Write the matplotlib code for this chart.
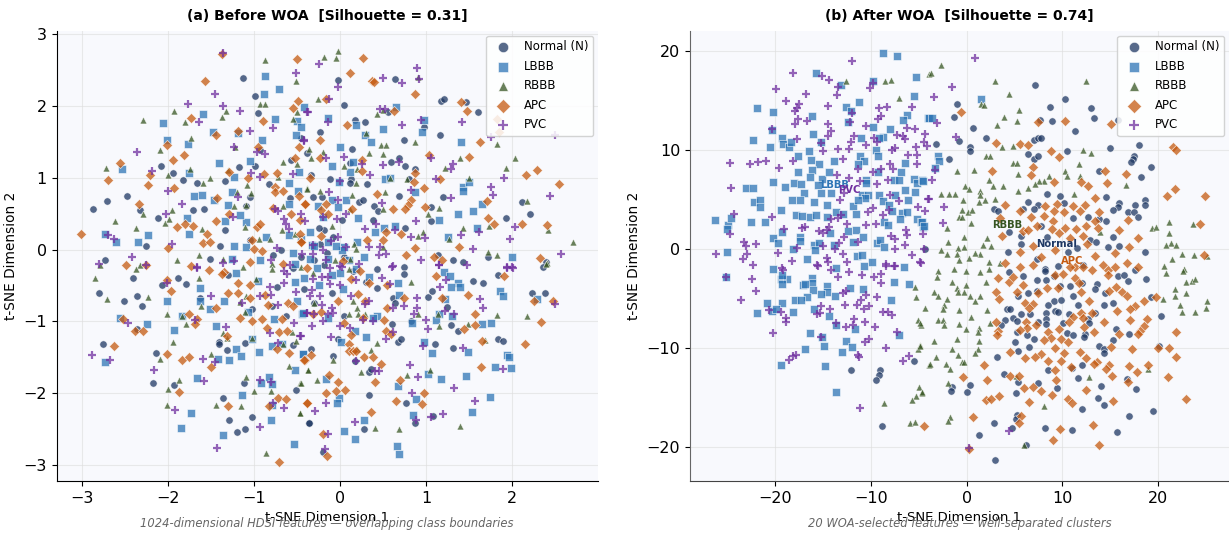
import matplotlib
matplotlib.use("Agg")
import matplotlib.pyplot as plt

# (a) before WOA
a_normal = [(-2.87,.56),(-2.71,.67),(-2.48,.74),(-2.33,.55),(-2.12,.44),(-2.08,1.16),(-1.94,1.06),(-1.83,.97),(-1.66,.92),(-1.71,.55),(-1.58,.57),(-1.34,.96),(-1.18,1.15),(-1.13,2.38),(-.99,2.13),(-.96,1.9),(-.99,1.16),(-1.34,.27),(-1.4,.05),(-2.26,.05),(-2.73,-.14),(-1.51,-.13),(-1.1,.6),(-1.05,.73),(-.57,1.25),(-.45,1.55),(-.58,.72),(-.83,.91),(-.93,1.39),(-.69,-.01),(-.78,-.08),(-.39,1.34),(-1.05,.13),
    (-.03,2.36),(.64,2.37),(.04,2.01),(.17,1.8),(.29,1.77),(1.17,2.07),(1.21,2.09),(1.47,2.05),(1.6,1.92),(.56,1.91),(.97,1.7),(1.16,1.6),(.74,1.53),(-.24,1.63),(.14,1.4),(.59,1.22),(.69,1.27),(.76,1.16),(.87,1.12),(.11,1.21),(-.34,1.03),(-.12,.98),(.13,.98),(.12,.92),(.31,.91),(.8,.98),(.69,.74),(1.2,.73),(.22,.66),(.27,.69),(.39,.61),(.44,.53),(1.06,.59),(1.06,.4),(1.93,.44),(2.12,.66),(2.21,.5),(.38,.41),(.02,.41),(-.32,.73),(-.21,.73),(-.19,.27),(.76,.3),(1.14,-.07),(1.31,-.14),(1.43,-.17),(1.72,-.11),(2.4,-.17),(-.24,.08),
    (-2.41,-.4),(-2.07,-.49),(-1.89,-.4),(-1.79,-.48),(-2.81,-.61),(-2.51,-.71),(-2.36,-.65),(-2.3,-.78),(-2.36,-1.1),(-2.76,-1.32),(-2.14,-1.44),(-2.18,-1.85),(-1.93,-1.88),(-1.41,-1.28),(-1.41,-1.31),(-1.32,-1.4),(-1.11,-1.3),(-1.12,-1.85),(-1.36,-2.07),(-1.29,-2.37),(-1.2,-2.54),(-1.11,-2.5),(-1.02,-2.33),(-.51,-1.95),(-.36,-2.41),(-.55,-1.33),(-.63,-.92),(-.74,-.52),(-1.3,-.36),(-1.63,-.67),(-.79,-.79),(-1.03,-.83),
    (-.19,-.22),(.43,-.27),(.74,-.24),(.74,-.34),(1.55,-.44),(1.66,-.47),(1.84,-.36),(2.36,-.24),(2.23,-.6),(2.38,-.61),(1.02,-.66),(1.07,-.57),(1.24,-.8),(.43,-.54),(.61,-.67),(.64,-.75),(.6,-1.03),(.82,-.99),(1.29,-1.05),(1.37,-1.14),(.67,-1.29),(.71,-1.25),(1.1,-1.32),(1.31,-1.37),(1.84,-1.24),(1.9,-1.27),(-.34,-1.39),(-.08,-1.48),(-.02,-1.24),(.05,-.92),(.17,-1.55),(.33,-1.71),(.36,-1.66),(.33,-2.03),(.77,-2.14),(1.08,-2.31),(.87,-2.42),(.28,-2.5),(-.36,-2.41),(-.2,-2.82),
    (-.45,-.1),(-.3,-.15),(-.15,-.05),(-.25,.3),(-.08,.18),(.15,-.3),(.05,-.1),(-.42,-.55),(-.55,-.25),(.3,-.45),(-.1,-.6),(-.3,-.75)]
a_lbbb = [(-2.06,1.76),(-2.02,1.52),(-1.6,1.88),(-1.48,1.63),(-1.19,1.62),(-1.77,1.47),(-1.41,1.21),(-1.05,1.23),(-1.23,1.01),(-1.76,1.06),(-2.54,1.12),(-1.7,.74),(-1.61,.76),(-1.47,.69),(-1.26,.8),(-1.31,.62),(-1.78,.44),(-1.76,.22),(-1.34,.4),(-1.1,.38),(-1.16,.48),(-1.23,.05),(-1.09,.04),(-2.73,.22),(-2.61,.11),(-2.35,.11),(-2.23,.2),(-.87,2.42),(-.89,2.16),(-.71,2.23),(-.76,1.82),(-.91,1.52),(-.42,1.98),(-.5,1.79),(-.46,1.71),(-.51,1.59),(-.48,1.08),(-.6,.92),(-.49,.82),(-.6,.63),(-.86,.17),(-1.26,-.13),(-.93,-.15),(-.53,-.2),
    (-.14,1.83),(.19,1.73),(.29,1.6),(.36,1.49),(.5,1.67),(.65,1.98),(.97,1.8),(.95,1.63),(1.41,1.49),(0,1.42),(-.1,1.16),(.11,1.08),(.15,1.22),(-.01,.94),(.52,.98),(.58,.99),(.87,.8),(1.43,.87),(1.43,.82),(1.5,.94),(1.65,.63),(1.54,.53),(1.37,.49),(1.15,.41),(1.59,.3),(1.26,.17),(2,-.1),(.07,.69),(-.1,.69),(-.26,.6),(-.02,.59),(.21,.44),(-.35,.24),(.41,.24),(.51,.3),(.64,.33),(-.14,.1),(.04,.03),(-.33,.06),(-.35,-.13),(-.14,-.13),(.02,-.01),
    (-1.21,-.33),(-1.63,-.54),(-1.63,-.72),(-1.35,-.72),(-2.02,-.72),(-1.51,-.83),(-1.84,-.93),(-2.25,-1.04),(-2.56,-.95),(-1.93,-1.12),(-1.44,-1.06),(-1.07,-.87),(-.96,-.44),(-.5,-.71),(-.77,-.97),(-.53,-.45),(-.42,-.4),(-1.03,-1.24),(-1.21,-1.38),(-1.15,-1.48),(-.94,-1.43),(-1.29,-1.53),(-1.42,-1.52),(-.79,-1.34),(-.68,-1.31),(-.53,-1.67),(-.43,-1.45),(-1.66,-1.79),(-2.73,-1.57),(-1.14,-2.03),(-.83,-1.78),(-.92,-1.85),(-.79,-1.87),(-.81,-2.37),(-.79,-2.16),(-1.74,-2.27),(-1.85,-2.48),(-1.36,-2.58),(-.54,-2.7),(-.44,-.9),
    (-.27,-.25),(0,-.32),(.18,-.27),(.34,-.38),(.67,-.46),(.03,-.55),(.68,-.63),(1.21,-.31),(1.28,-.37),(1.37,-.46),(1.29,-.52),(1.4,-.52),(1.86,-.58),(1.9,-.64),(2.29,-.69),(1.22,-.69),(1.3,-.93),(1.15,-.89),(1.12,-.98),(.84,-1.02),(1.65,-1.04),(1.76,-1.02),(.43,-.93),(.38,-.95),(.17,-1.13),(.3,-1.21),(.01,-1.29),(.98,-1.29),(1.07,-1.44),(1.49,-1.43),(1.94,-1.47),(1.97,-1.49),(1.99,-1.65),(1.8,-1.64),(1.46,-1.76),(1.17,-1.8),(1.02,-1.73),(.67,-1.9),(-.17,-1.8),(-.01,-2.06),(-.04,-2.13),(1.74,-2.05),(.88,-2.08),(1.53,-2.26),(.85,-2.3),(.28,-2.37),(.05,-2.53),(.17,-2.64),(.66,-2.73),(.69,-2.85),(-.43,-1.45),(-.43,-.88),(-.14,-.95),
    (-.3,.05),(-.05,.05),(.1,-.15),(-.25,-.5),(-.1,-.35),(.2,.1),(-.45,.15),(-.55,-.05),(-.6,.2),(-.2,.45),(.28,-.1)]
a_rbbb = [(-2.72,1.13),(-2.29,1.8),(-1.93,1.93),(-1.8,1.78),(-1.73,1.55),(-2.1,1.38),(-2,1.03),(-1.75,1.12),(-1.51,1),(-1.6,.92),(-2.62,.4),(-2.37,.3),(-2.29,.5),(-1.96,.55),(-2.04,.37),(-1.99,.42),(-1.61,.29),(-.88,2.64),(-.51,2.35),(-.93,2.03),(-.88,2.02),(-1.38,1.84),(-1.33,1.93),(-1.22,1.42),(-.66,1.22),(-.5,1.92),(-.55,1.82),(-.5,1.19),(-1.31,1.11),(-.72,1.01),(-1.08,.9),(-1.04,.78),(-1.2,.8),(-.39,.85),(-1.24,.6),(-1.1,.62),(-1.11,.32),(-.82,.15),(-.94,.15),(-.66,.6),(-.68,.27),(-.53,.22),(-2.79,-.22),(-2.33,-.22),(-1.9,-.15),(-1.64,-.08),(-1.36,-.13),(-1.13,-.24),(-.79,-.2),(-.45,-.24),
    (-.03,2.76),(-.19,2.68),(-.05,2.67),(.9,2.4),(-.26,2.1),(.43,1.89),(.5,1.94),(.3,1.62),(.87,1.49),(.48,1.46),(.53,1.45),(1.83,1.47),(2.03,1.27),(1.93,1.13),(1.39,1.28),(1.22,1.14),(1.5,1),(.58,1),(.78,.98),(-.36,1.4),(-.2,1.35),(-.34,1.28),(.33,1.34),(.5,1.33),(.04,1.16),(.2,1.12),(.18,.92),(-.38,.84),(-.23,.81),(.14,.76),(.52,.8),(2.17,.67),(1.15,.58),(.5,.56),(1.02,.5),(.11,.57),(1.73,.33),(1.43,.3),(2.42,.27),(2.71,.1),(1.27,.15),(.96,.25),(.91,.19),(1.72,-.03),(1.83,-.07),(2.41,-.19),(-.1,.33),(.16,.08),(.19,.01),(-.06,-.15),(.11,-.13),(.5,.04),
    (-2.85,-.39),(-2.71,-.69),(-2.23,-.66),(-2.38,-.27),(-2.02,-.89),(-1.84,-.93),(-1.79,-1.04),(-1.64,-.39),(-1.62,-.79),(-1.94,-1.28),(-2.1,-1.52),(-1.5,-1.46),(-1.36,-1.16),(-1.32,-1.23),(-1.16,-.73),(-1.11,-.87),(-1.09,-.65),(-.98,-.41),(-1.02,-1.23),(-.66,-1.31),(-.56,-1.15),(-.51,-1.27),(-.6,-1.62),(-.37,-1.68),(-.47,-1.86),(-1.1,-1.77),(-1.88,-1.82),(-2,-1.94),(-2.01,-2.16),(-1.45,-2.16),(-1.15,-2.17),(-1,-1.97),(-.81,-1.97),(-.47,-2.27),(-.86,-2.83),(-.79,-.27),
    (-.31,-.33),(.1,-.27),(.83,-.45),(.15,-.72),(-.3,-.74),(.1,-.9),(.2,-.82),(.21,-.89),(.29,-.89),(.9,-.9),(1.14,-.89),(1.15,-1.07),(1.49,-1.04),(1.82,-.91),(2.17,-.92),(.43,-1.3),(1.69,-1.26),(.2,-1.38),(.36,-1.4),(-.08,-1.54),(-.37,-1.68),(-.27,-1.82),(.24,-1.7),(.78,-1.75),(1.04,-1.68),(.4,-2.48),(.68,-2.49),(1.39,-2.45),(-.46,-1.86),(-.47,-2.27),(2.4,-.2)]
a_apc = [(-3.01,.22),(-2.56,1.2),(-2.7,.97),(-2.34,.63),(-2.24,.9),(-2.21,1.04),(-2.02,1.45),(-1.94,1.25),(-1.82,1.31),(-1.93,.85),(-1.74,1.83),(-1.57,2.34),(-1.45,1.59),(-1.37,2.72),(-1.19,1.65),(-1.29,1.08),(-1.07,1),(-1.43,.72),(-1.29,.5),(-1.44,.39),(-1.9,.31),(-1.8,.36),(-1.71,.33),(-1.55,.22),(-1.6,.09),(-1.51,.1),(-2,.02),(-2.49,-.22),(-2.26,-.22),(-1.74,-.23),(-.97,.32),(-.93,.35),(-1.03,.13),(-1,.01),(-.91,-.02),(-1.05,-.17),(-.96,1.43),(-.9,1.79),(-.89,1.05),(-.74,1.06),(-.76,.87),(-.76,.8),(-.66,.81),(-.78,.58),(-.57,.5),(-.5,2.65),(-.49,2.06),(-.55,1.97),(-.48,1.42),(-.52,1.28),(-.48,.74),(-.41,.64),(-.47,.41),(-.47,.22),(-.45,.1),(-.66,-.2),
    (.27,2.66),(.12,2.46),(.37,2.35),(.39,2.33),(.87,2.16),(-.17,2.09),(1.41,2.05),(1.48,1.93),(.63,1.93),(.08,1.73),(-.23,1.52),(-.24,1.27),(.25,1.25),(.26,1.09),(-.35,1),(1.03,1.32),(1.5,1.29),(1.63,1.5),(1.82,1.82),(1.85,1.64),(2.16,1.04),(2.29,1.1),(2.55,.91),(.87,1.07),(.86,.94),(.97,.85),(1.16,.98),(.43,.77),(.82,.69),(.79,.62),(.76,.57),(.61,.57),(.99,.59),(1.71,.67),(1.72,.44),(1.79,.35),(2.12,.36),(2.41,.34),(2.33,-.12),(1.38,.03),(1.09,-.11),(1.19,-.15),(.87,.02),(.71,.21),(.53,.25),(.5,.13),(.31,.13),(.14,.56),(-.17,.63),(-.22,.55),(-.14,.5),(-.41,.64),(-.22,.19),(.03,-.16),(.77,-.08),(-.45,.11),
    (-2.53,-.97),(-2.39,-1.13),(-2.29,-1.14),(-2.63,-1.34),(-2.01,-1.45),(-1.84,-1.54),(-1.76,-1.49),(-1.97,-.57),(-2.01,-.42),(-1.53,-.28),(-1.35,-.31),(-1.37,-.34),(-1.19,-.47),(-1.31,-.6),(-1.19,-.6),(-1.44,-.82),(-1.76,-.9),(-1.66,-.96),(-1.69,-1.03),(-1.32,-1.2),(-1.5,-1.63),(-1.88,-1.98),(-1.31,-2.17),(-1.05,-.5),(-1.05,-.68),(-.88,-.63),(-.84,-.77),(-1.17,-.95),(-1.03,-1),(-.91,-.96),(-.85,-1.09),(-.68,-.96),(-.71,-1.15),(-.62,-1.14),(-.61,-.74),(-.55,-.79),(-.74,-1.38),(-.6,-1.44),(-.41,-1.54),(-.72,-2.07),(-.63,-2.08),(-.83,-2.17),(-.38,-2.14),(-.71,-2.95),
    (-.38,-.25),(.23,-.3),(.13,-.41),(.34,-.46),(.55,-.5),(1.11,-.37),(1.91,-.37),(.21,-.62),(-.02,-.71),(.29,-.72),(.74,-.67),(1.18,-.68),(1.49,-.63),(2.26,-.71),(2.48,-.72),(.55,-.82),(-.22,-.87),(-.31,-.89),(.27,-.95),(.05,-1.02),(.51,-.98),(1.57,-.89),(1.57,-1.05),(1.44,-1.1),(2.34,-1.01),(.53,-1.14),(.59,-1.17),(.13,-1.19),(.1,-1.31),(.1,-1.41),(.15,-1.41),(.19,-1.41),(.28,-1.5),(.38,-1.49),(.47,-1.59),(-.34,-1.47),(-.42,-1.53),(-.13,-1.74),(-.03,-1.84),(.7,-1.82),(.41,-1.84),(1.65,-1.27),(2.15,-1.32),(1.64,-1.64),(-.17,-2),(-.05,-1.97),(.06,-1.96),(.98,-2),(.65,-2.11),(.95,-2.15),(.36,-2.26),(-.38,-2.14),(-.2,-2.56),(-.15,-2.87)]
a_pvc = [(-1.36,2.73),(-1.46,2.16),(-1.77,2.02),(-1.36,1.99),(-1.64,1.78),(-1.16,1.93),(-1.05,1.65),(-.78,1.69),(-2.36,1.35),(-2.19,1.09),(-1.23,1.43),(-.97,1.36),(-.87,1.33),(-.51,2.46),(-.38,1.92),(-.42,1.52),(-.55,1.05),(-1.04,1.06),(-.93,1.01),(-2,.81),(-1.84,.64),(-2.03,.49),(-2.7,.2),(-2.63,.15),(-1.96,.08),(-2.42,-.1),(-2.81,-.2),(-2.26,-.22),(-1.19,.73),(-1.25,.45),(-.76,.56),(-.72,.53),(-.65,.42),(-.63,.36),(-.6,.29),(-.45,.5),(-.41,.39),(-.74,.02),(-.44,-.06),(-.81,-.14),(-1.24,-.16),(-1.36,-.19),(-1.66,-.24),(-.58,-.22),
    (-.25,2.58),(.89,2.52),(.92,2.37),(.5,2.38),(.72,2.32),(-.02,2.26),(-.13,2.1),(-.37,1.92),(.46,1.95),(.52,1.95),(.94,1.8),(-.14,1.78),(.72,1.73),(1.42,1.78),(1.76,1.56),(2.5,1.6),(-.42,1.51),(.04,1.29),(-.17,1.27),(.25,1.19),(.5,1.17),(.68,1.22),(1.06,1.27),(1.31,1.19),(1.29,1.12),(.35,1.03),(0,.95),(1.11,.98),(1.91,1),(1.76,.87),(1.78,.76),(2.44,.74),(.83,.83),(-.13,.8),(1.29,.71),(-.02,.69),(.49,.65),(-.2,.45),(.07,.5),(-.04,.43),(.42,.35),(.88,.39),(.29,.29),(.64,.27),(.83,.18),(.99,.16),(1.41,.2),(1.62,.25),(2.04,.32),(1.98,.15),(1.55,.01),(2.57,-.06),(.94,-.15),(-.02,.17),(-.11,.12),(-.31,.06),(-.2,-.01),(-.31,-.06),(.33,.04),(.46,.03),(.53,-.06),(.45,-.08),(.07,.03),(-.16,-.15),(.22,-.2),(.62,-.23),(1.15,-.22),(1.94,-.24),(2,-.24),(0,-.23),
    (-2.89,-1.47),(-2.68,-1.54),(-2.47,-1.02),(-2.16,-1.67),(-1.92,-2.23),(-2.01,-.47),(-1.69,-.98),(-1.5,-.64),(-1.66,-.25),(-1.6,-1.52),(-1.46,-1.56),(-1.58,-1.83),(-1.33,-1.08),(-1.14,-.74),(-.93,-.64),(-.8,-.63),(-.82,-.52),(-.65,-.47),(-.65,-.3),(-.62,-.34),(-.51,-.59),(-.72,-.77),(-.38,-.88),(-.54,-1.02),(-.82,-1.16),(-.72,-1.3),(-.47,-1.2),(-.93,-1.81),(-.8,-1.84),(-.78,-2.14),(-.65,-2.2),(-.93,-2.47),(-1.43,-2.76),
    (-.12,-.26),(.02,-.24),(.6,-.24),(1.15,-.22),(1.48,-.22),(1.94,-.25),(2.01,-.25),(-.21,-.38),(-.14,-.38),(-.31,-.41),(.18,-.42),(.49,-.39),(-.12,-.48),(.58,-.48),(1.23,-.43),(1.16,-.52),(-.33,-.56),(0,-.49),(.13,-.65),(-.24,-.65),(-.35,-.64),(.89,-.67),(1.63,-.69),(-.21,-.77),(.34,-.71),(.29,-.76),(.74,-.78),(.61,-.81),(.89,-.82),(.86,-.89),(-.1,-.81),(-.14,-.89),(-.08,-.88),(-.39,-.88),(-.3,-.89),(1.22,-.86),(1.32,-.89),(1.66,-.82),(2.5,-.76),(-.2,-1),(-.33,-1.07),(0,-1.07),(.27,-.98),(.38,-1),(.12,-1.09),(1,-.98),(1.02,-1.1),(.62,-1.15),(.53,-1.24),(-.11,-1.22),(.96,-1.34),(1.43,-1.37),(.19,-1.55),(.81,-1.6),(.4,-1.69),(.45,-1.69),(.9,-1.78),(1.9,-1.66),(1.33,-1.93),(.84,-2),(1.57,-2.11),(-.29,-2.24),(-.17,-2.14),(1.2,-2.29),(1.06,-2.33),(.88,-2.37),(.17,-2.4),(-.14,-2.57),(-.18,-2.78),(-.46,-1.2)]

# (b) after WOA
b_normal = [(-4.4,0),(7.1,16.6),(-1,14.6),(10.3,15.1),(8.7,14.3),(13,14.2),(-1.3,13.3),(7.7,13),(8.9,12.9),(13.3,13.2),(15.8,13),(.7,12.2),(11.3,11.9),(2,11.2),(-.8,10.9),(7,11),(7.5,11.2),(7.8,11.2),(-3.2,10.6),(.3,10.3),(.3,9.9),(15,10.2),(18,10.5),(6.4,9.6),(7,9.1),(7.4,9.4),(10.5,9.9),(-1.8,9.1),(17.5,9.4),(17.4,9.1),(17.2,8.8),(19.3,8.3),(13.8,7.9),(18.2,7.3),(8.4,5.6),(9.7,5.4),(14.6,5.3),(6.4,4.7),(7.5,4.4),(10.2,4.6),(15.9,4.6),(15.8,4.2),(15.3,3.9),(17.6,4.4),(18.6,4.9),(18.6,4.4),(2.9,4),(3.3,3.8),(7,4),(5.9,4),(16.9,3.7),(17.5,3.7),(17.9,3.2),(11.1,3.1),(12.7,3.2),(13.8,3),(14.6,2.8),(7.8,2.3),(4.4,1.7),(5.7,1.3),(15.3,1.2),(5.7,.5),(8.4,1.2),(12.9,.9),(13.5,.7),(14.8,.2),(15.9,.3),(7.3,-1),(4.3,-.3),(10.6,-.3),(11.5,.1),(18.6,-.3),(8.2,-2),(12.2,-1.6),
    (-5.5,-11.3),(-12.1,-12.2),(-9.1,-12.2),(-9.2,-12.7),(-9.5,-13.2),(-8.8,-17.9),
    (4.4,-2.3),(5.9,-2.7),(7.3,-3.1),(8.2,-2.2),(8.3,-3.1),(9.5,-1.7),(9.1,-2.7),(12,-3.4),(13.6,-3.5),(15.8,-2.7),(16.4,-2.6),(16.9,-3.2),(17.6,-2.1),(18.7,-3),(9.7,-3.7),(10.8,-3.7),(13.4,-4),(14.5,-4.4),(7.3,-4.2),(6.4,-4.4),(5.4,-4.7),(11.1,-4.7),(9.1,-5.2),(9.8,-5.1),(8.5,-5.6),(11.6,-5.6),(14.3,-5.6),(15.3,-5.4),(19.3,-4.8),(4.2,-6),(4.5,-6),(9.2,-6.2),(9.5,-6.3),(5.7,-6.6),(6.6,-6.6),(8.3,-6.5),(10.7,-6.6),(13.4,-6.5),(4,-7.2),(4.8,-7),(5.3,-7.3),(3.6,-7.7),(7.5,-7.4),(8.3,-7.1),(8.3,-7.6),(10.1,-7.5),(12.7,-7.1),(12.8,-7.5),(20.3,-6.8),(5.3,-8.4),(6.3,-8.7),(7,-9.1),(10.5,-8.5),(11.1,-8.7),(12.4,-8.6),(12.3,-8.9),(15.6,-8.1),(17,-8.6),(5,-9.4),(6.5,-9.9),(15.3,-9.2),(13.8,-9.8),(14.3,-10.1),(14.3,-10.5),(20.1,-9.8),(5.4,-10.3),(3.2,-10.9),(12,-11.7),(11,-12),(8.5,-12.2),(3.9,-12.6),(5.4,-13.4),(7.4,-13.5),(11.6,-13),(16.7,-13.1),(-1.5,-13.9),(-1.6,-14.3),(.3,-13.7),(0,-14.4),(5.2,-14.5),(9.4,-14),(14,-13.8),(17.7,-14.1),(13.7,-15),(14.3,-15.7),(12,-16.1),(19.5,-16.3),(17,-16.8),(5.3,-16.7),(5.2,-17.1),(2.9,-17.5),(4.7,-18.1),(8.2,-18.1),(11,-18.3),(15.7,-18.5),(1.3,-18.8),(6.2,-19.8),(3,-21.3)]
b_lbbb = [(-26.3,2.9),(-25,-.3),(-24.9,2.4),(-25,2),(-24.6,3.1),(-21.9,14.2),(-20.2,13.8),(-22.3,11),(-20.3,12),(-20.5,10.3),(-19.3,11.2),(-19.2,10.6),(-18.6,10.3),(-18.3,10.8),(-23,6.2),(-22.3,6.2),(-22.2,4.7),(-21.6,5),(-21.6,4.2),(-22.5,2.7),(-21.1,2.7),(-20.2,6.8),(-19,6.3),(-19.4,3.9),(-19.3,1.7),(-20.2,1.1),(-19.7,.6),(-18.1,0),(-18,6.7),(-17.3,6.6),(-17,5.7),(-18.2,5),(-17.4,4.9),(-17.8,3.4),(-17.2,3.3),(-16.4,3.2),(-15.7,3.4),(-16,4.7),(-15.7,17.8),(-13.1,16.6),(-16.2,13.4),(-16.1,11.6),(-15.2,10.8),(-16.5,9.9),(-17.6,9.4),(-16.3,9),(-15.4,8.6),(-17.6,7.8),(-16.2,8),(-16.4,7.3),(-15.1,7.1),(-14.4,7.8),(-13.9,8.9),(-15.5,6.5),(-15.2,5.7),(-14.2,5.7),(-14.6,4.4),(-13.6,3.7),(-12.9,3.5),(-14.6,3.2),(-11.6,3.5),(-11.9,4.3),(-14.3,1.6),(-12.4,1.8),(-11.6,1.9),(-11.9,.7),(-17.4,1.2),(-17.4,.8),(-16,.4),(-15.4,.6),(-13.9,.4),(-10.8,1.2),
    (-8.7,19.8),(-7.3,19.5),(-9.8,17),(-5.3,17.4),(-5.5,15.4),(-11.2,14.8),(-12.6,14.3),(-12.1,13.9),(-12.4,12.8),(-6.2,13.5),(-6.6,13),(-4,13.2),(-9.8,12.3),(-8,12.1),(-8.7,11.3),(-9.2,11.2),(-11,11.2),(-9.5,10),(-11.1,9.4),(-9.3,9.4),(-10.7,8.9),(-11.3,8.6),(-6.4,8.7),(-6.9,7.8),(-9.3,7.8),(-5.5,7.1),(-5.2,6.7),(-4.7,7),(-7.6,7),(-7.1,7),(-10.5,7),(-10.5,6.7),(-10.9,5.5),(-10.3,5.5),(-9.2,5.5),(-7.5,5.5),(-6.4,6),(-5.4,5.8),(-8.7,4.8),(-8.1,4.4),(-6.1,4.9),(-7.8,3.8),(-10.6,5.2),(-11.3,4.9),(-6.8,3.6),(-6.2,3.7),(-7,3),(-5.2,3),(-4.8,2.7),(-4.6,2.2),(-8.6,2.7),(-8.2,2.4),(-9.4,.6),(-9.1,.9),(-8.6,.2),(-11.5,-.7),(-10.9,-.6),(-9.9,-1.3),(-16.7,-1),(-15.8,-.1),
    (1.5,15.1),(-3.9,13.2),(-3.6,13.2),(-3,9.4),(-2.9,8.9),(-3.3,8.2),(-4.6,6.9),(-4.7,2.7),(-4.5,2.3),
    (-25.1,-2.85),(-20.2,-2),(-19.4,-3),(-18.8,-3),(-19.3,-2.65),(-19.3,-3.5),(-16.2,-2.9),(-16.2,-3.4),(-16.1,-4.1),(-17.1,-3.6),(-16.9,-3.5),(-14.6,-3.7),(-14.6,-4.3),(-15.2,-4.5),(-16.7,-4.8),(-13.8,-4.7),(-12.2,-3.9),(-10.8,-4),(-17.9,-5.1),(-17.3,-5.1),(-20.9,-5.4),(-19.3,-5.4),(-20.3,-6.2),(-19.9,-6),(-21.9,-6.5),(-18.1,-6.4),(-16,-6),(-14.4,-6.8),(-13.6,-7.7),(-11.7,-8.1),(-7.9,-5.1),(-7.6,-3.3),(-6,-3.5),(-16.4,-8.5),(-15.1,-8.9),(-14.9,-9.8),(-16.9,-10.1),(-12.6,-9.3),(-12,-9.9),(-13,-10.4),(-7.1,-8.7),(-19.4,-11.7),(-14.8,-11.8),(-13.7,-14.4),(-13.6,-1.9),(-6.5,-1.8),(-10.7,-1.7)]
b_rbbb = [(-12.6,17),(-8.5,17),(-7.9,17.1),(-7.1,15.2),(-3.9,17.7),(-2.7,18.6),(-3.7,17.8),(3,17),(12.5,17),(4.4,15.6),(1.5,14.6),(1.8,14.5),(5.5,14),(3.9,13.3),(5.3,12.9),(3.2,12.5),(3.7,10.3),(4.8,10.4),(2,9.4),(2.4,9.4),(12.2,10),(13,9.7),(4.8,8.7),(5.3,8.7),(11.7,8.6),(-1,7.9),(.8,8),(10.3,7.9),(10.5,7.4),(5.4,7.6),(11.8,7.4),(2.3,7),(8.6,7.4),(8.1,6.9),(7.6,6.9),(7.1,6.6),(-.2,6.4),(.2,6.1),(2.8,6.4),(3.8,6.4),(16.6,6.5),(6.4,6.2),(5.4,5.9),(1.4,5.9),(-2.7,5.6),(-1.8,5.6),(-1.2,5.6),(1.4,5.5),(11.2,5.6),(-.4,4.9),(1.3,4.7),(1.9,4.9),(3,5.1),(-.5,3.9),(.1,3.7),(.6,3.9),(-.8,3.2),(-.5,3.2),(.4,2.6),(21.1,2.7),(23.6,2.5),(19.4,2.1),(19.8,2.2),(-2.1,2.1),(21.1,1.6),(2.1,1.1),(-.3,1.2),(-1.9,.7),(21.3,.6),(20.8,.4),(21.9,.4),(-.9,.1),(-.3,.2),(1.7,.4),(2.5,.3),(-2.7,-.1),(-2.1,-.5),(-1,-.5),(.2,-.9),(1.4,-.5),(2.3,-1.3),(21.4,-1),(22.5,-.5),(23.7,-.6),(25.1,-.7),(13.9,1.7),(.9,-.4),(3.5,-1.4),(-.8,-1.1),(22.7,-2),
    (-5.4,-3.8),(-5.3,-4.8),(-4.4,-5.9),(-5.1,-7.2),(-4.8,-7.7),(-4.9,-9.7),(-5.1,-10.1),(-3.9,-11.7),(-5,-13.9),(-4.7,-14.5),(-5.3,-14.8),(-5.7,-15.2),(-8.6,-15.5),(-5.9,-17.5),(-5.4,-17.4),
    (-3,-2.2),(-3.1,-2.8),(-1.3,-2),(-.1,-2.2),(1.4,-2.3),(2.3,-2),(-1.5,-3.3),(-.1,-3.6),(2,-3.3),(-1,-3.9),(-.9,-4.3),(-.3,-4.3),(-3.4,-4.3),(-3,-4.7),(-2.1,-5),(.3,-4.7),(.9,-5.2),(1.4,-4.7),(-2.4,-5.6),(-2.5,-6),(-.8,-6.1),(.5,-6.9),(2.1,-6.1),(-3,-7.2),(-2.5,-7.2),(-2.4,-7.7),(-.8,-7.6),(-.1,-8.1),(1.3,-8),(1.2,-8.4),(2.4,-7.5),(-1,-9.1),(1.3,-9.3),(-3.4,-9.3),(-1.5,-10.1),(1.2,-10.1),(.9,-10.5),(-3.2,-10.9),(-.9,-10.7),(-.5,-11.4),(-.3,-11.4),(-3.8,-11.6),(-2.2,-11.6),(-1.7,-12.1),(-1.9,-13.5),(-4.7,-14.4),(5.2,-12.8),(12.8,-12.9),(18.9,-12.1),(8.1,-15.8),(-1.7,-16.9),(-1.9,-17.3),(6,-19.8),(20.6,-1.7),(20.8,-2.4),(22.6,-2.2),(22.9,-3.3),(23.5,-3.2),(23.8,-3),(21.8,-4),(21.8,-4.7),(22.9,-4.4),(20.5,-5),(25.1,-5.2),(22.3,-5.6),(25,-5.9),(22.5,-6.4),(23.8,-6.4),(-4.9,-7.5),(-4.9,-9.8)]
b_apc = [(-.6,13.8),(10.3,12.9),(7.5,12.8),(15.1,12.6),(3.1,10.7),(5.6,10.6),(6.4,10.5),(21.6,10.3),(21.9,10),(8.8,9.9),(9.6,9.3),(6.9,8.3),(2.6,7.9),(6.7,7.5),(14.5,7.9),(16.6,7.6),(9.1,6.8),(11.9,6.8),(12.7,6.4),(14.7,6.7),(21.8,6.1),(20.9,5.4),(24.9,5.4),(13.4,5.2),(4,4.4),(5.6,3.8),(8.2,4.3),(9.4,4.5),(9.1,3.8),(10.2,3.7),(11.1,4.3),(12.4,4.4),(11.8,3.8),(13.8,3.7),(8.1,3.3),(6.7,3.2),(3.5,3.1),(9,2.8),(16.9,2.9),(24.4,2.5),(7.3,2.3),(5.9,1.8),(6.4,1.9),(8.9,2),(9.6,1.6),(10.3,2.1),(11.4,2),(12.5,2.3),(13.4,2.8),(13.7,2.1),(15.9,1.9),(3.7,1.3),(12.2,1.3),(17.9,1.1),(10.8,1.1),(6.9,.3),(9.2,-.1),(12.6,.5),(17,.2),(5.6,-.3),(15.5,-.4),(24.8,-.6),(7.8,-.8),(13.4,-.7),(4,-1.4),(5.6,-1.8),(6.9,-1.6),(11.3,-1.8),(16.7,-1.4),(17.9,-1.8),(14.2,-1.6),
    (9.2,-2.6),(10.1,-2.5),(10.8,-1.8),(12.2,-1.8),(13.1,-2.1),(14.8,-2.1),(14.8,-2.6),(15.5,-1.8),(3.3,-2.9),(4.4,-3.3),(4.8,-2.8),(11.3,-2.9),(11.7,-3.4),(5.9,-3.6),(8.4,-3.9),(9.5,-3.9),(11.9,-4.3),(5.3,-4.3),(7.5,-4.4),(14.9,-4.2),(15.6,-3.8),(16.2,-4.3),(16.7,-4.7),(19.8,-4.8),(3.1,-4.3),(3.4,-5),(6.1,-5.4),(6.9,-5.5),(6.5,-5.9),(12.8,-5.2),(18.5,-5.2),(17.6,-5.7),(17.1,-6),(15.7,-6.2),(11.9,-6.5),(13.1,-6.5),(11.1,-6.9),(10.7,-7.4),(12.1,-7),(12.3,-7.9),(14.3,-7.4),(17.1,-7.2),(18.8,-7.1),(3.1,-7.4),(6.2,-7.4),(7.2,-7.7),(6.3,-8),(5.6,-8.2),(3.3,-8.3),(3.2,-8.7),(9.6,-8.1),(13.3,-8.4),(15.9,-8.6),(18.5,-7.8),(18.1,-8.3),(17.9,-8.6),(21.9,-8.4),(8.5,-8.4),(8.8,-9),(8.1,-9.2),(9.9,-9.1),(10.6,-9.4),(9.2,-10),(15.1,-9.9),(17.3,-10.1),(20,-10),(21.1,-10),(4.5,-10.4),(10.2,-10.5),(11.8,-10.4),(7.8,-10.6),(7.1,-10.9),(6.1,-11),(12.5,-11),(8.5,-11.3),(9.8,-11.3),(13.6,-11.4),(13.3,-11.6),(21.9,-10.9),(1.8,-11.7),(18.9,-11.7),(10.9,-11.9),(14.9,-11.7),(14.6,-12.1),(17,-11.8),(9.2,-12.2),(17.8,-12.4),(15.2,-12.8),(4.5,-12.8),(5.5,-12.8),(-.4,-12.9),(2.1,-13.2),(9.3,-13.2),(21,-12.9),(16.8,-13.4),(6,-14),(6.9,-13.9),(7.8,-14.3),(12.5,-14.2),(8.9,-14.7),(2,-15.2),(2.5,-15.1),(3.4,-14.8),(6.5,-15.4),(10.6,-15.1),(11,-15.5),(15.3,-15.3),(22.9,-15.1),(.7,-16.9),(5.7,-16.8),(5.5,-17.5),(-4.5,-17.9),(9.7,-18.2),(13.2,-17.7),(9,-19.3),(13.8,-19.8),(.2,-20.2)]
b_pvc = [(-12,19),(-18.1,17.8),(-15.1,17.5),(-14.4,17.1),(-13.4,16.3),(-10.1,16.2),(-9.8,16.8),(-19.9,16.1),(-16.8,15.6),(-13.5,15.5),(-18.9,14.9),(-17.5,14.6),(-17.7,14.2),(-17.9,13.9),(-14.5,14.4),(-9.2,14.2),(-8.3,14.3),(-5.7,14.3),(-12,13.7),(-9,13.4),(-9.3,13.1),(-17.6,13.1),(-17.9,12.6),(-16.7,12.9),(-12.2,12.8),(-14.5,12.6),(-10.5,12.4),(-14.2,11.9),(-20.3,12.1),(-6.2,12.2),(-5.4,12.1),(-4.4,11.6),(-7.3,11.5),(-6.6,11.4),(-6.4,11.1),(-9.7,11.2),(-9.4,10.8),(-11.8,11.4),(-14.5,11.4),(-17.7,11.1),(-15.2,10.7),(-4.5,10.8),(-4.1,10.4),(-12.1,10.8),(-10.5,10.5),(-5.3,10.3),(-13.4,10.1),(-12.3,10.1),(-15,9.9),(-7.5,10.2),(-7.8,10),(-6.1,9.5),(-5.2,9.5),(-24.7,8.7),(-22.6,8.6),(-21.8,8.8),(-21,8.9),(-18.1,8.9),(-12.9,9.1),(-19.6,8.2),(-8,8.6),(-5.2,8.6),(-7.7,8.1),(-11.4,8.1),(-9.8,7.8),(-8.9,8.1),(-13.5,7.5),(-12.3,7.2),(-11.1,6.9),(-8.2,7),(-9.4,6.6),(-24.6,6.2),(-12.8,5.7),(-8,5.5),(-4,5.1),(-13.2,4.9),(-7.1,4.8),(-5.1,4.2),(-4.4,3.8),(-8.1,3.9),(-9.8,4.1),(-10.3,3.7),(-13.1,3.4),(-24.3,3.5),(-20.3,3.2),(-14.2,3),(-13.4,3.1),(-8.7,3.4),(-12.5,2.5),(-10.5,2.4),(-9.5,2.5),(-16.9,2.2),(-17.2,2.1),(-14.4,2.2),(-14.6,1.9),(-15.4,1.8),(-19.1,2),(-24.7,1.5),(-15,1.6),(-12.8,1.2),(-7.9,1.3),(-7.5,1),(-6.3,1.9),(-6.2,1.4),(-4.6,1.5),(-23.3,.7),(-23.1,.3),(-22,.5),(-13.3,.6),(-11.4,.7),(-15,.3),(-6.4,.4),(-17.7,.1),(-13.8,0),(-7.5,0),(-4.5,0),(-26.2,-.5),(-22.9,-.5),(-19.7,-.4),(-12.9,-.5),(-5.7,-.6),(-23.4,-1),(-14.6,-.9),(-18.2,-1.2),(-12.5,-1.3),(-22.3,-1.6),(-15.6,-1.6),(-14.5,-1.3),(-8.4,-1.5),(-7.6,-1.7),(-4.9,-1.3),(-19.3,-1.9),
    (.9,19.3),(-1.5,16.4),(-3.4,15.3),(-3.1,12.7),(-1.1,11.3),(-3.3,8),(-3.6,7),(-3.9,5.1),(-2.4,4.2),(-2.5,2.6),(-4.8,-1.4),
    (-25.1,-2.85),(-22.4,-3),(-22,-4.2),(-23.6,-5.1),(-20.6,-6.1),(-19.4,-6.3),(-18.9,-7),(-18.9,-7.4),(-20.2,-8.5),(-18.6,-11.2),(-18.1,-10.8),(-17.8,-10.7),(-15.2,-5.7),(-14.3,-6),(-15.6,-6.6),(-15.3,-6.5),(-13.6,-7.5),(-12.6,-7.9),(-15.2,-8.9),(-12.7,-5.6),(-11.5,-5.6),(-10.7,-6),(-10.2,-5.7),(-11.8,-7.1),(-11.9,-7.7),(-10.6,-7.4),(-9.6,-7.9),(-8.7,-6.4),(-8.2,-6.4),(-7.8,-6.7),(-7.3,-8.4),(-10.6,-9.4),(-10.2,-9.1),(-8.4,-10),(-11.4,-10.7),(-11.2,-10.9),(-6.6,-11.3),(-6,-10.8),(-11.1,-16),(-12.9,-4.4),(-12.6,-4.2),(-11,-5.1),(-10.5,-4.6),(-9.4,-4.8),(-8.9,-3.4),(-10.9,-2.6),(-9.7,-2.8),(-9,-2.5),(-12.3,-2.3),(-13.4,-2.8),(-14.2,-2.1),(-19.2,-2.1),(-15.5,-1.7),(-8.4,-1.7),(-7.5,-1.7),
    (4.4,-18.4),(.2,-20.1)]

class_names = ["Normal (N)", "LBBB", "RBBB", "APC", "PVC"]
class_colors = ["#1F3864", "#2E75B6", "#375623", "#C55A11", "#7030A0"]
class_markers = ["o", "s", "^", "D", "P"]
class_sizes = [28, 27, 25, 27, 28]
# cluster names written inside panel (b)
b_label_names = ["Normal", "LBBB", "RBBB", "APC", "PVC"]
b_label_xy = [(9.4, 0.5), (-13.8, 6.5), (4.2, 2.4), (11.0, -1.2), (-12.3, 6.0)]


def scatter_panel(ax, groups):
    """Draws the five classes on one axes"""
    for i, pts in enumerate(groups):
        xs = [p[0] for p in pts]
        ys = [p[1] for p in pts]
        if class_markers[i] == "P":
            ax.scatter(xs, ys, s=class_sizes[i], c=class_colors[i], marker="+",
                       alpha=0.75, linewidths=1.6, label=class_names[i], zorder=3)
        else:
            ax.scatter(xs, ys, s=class_sizes[i], c=class_colors[i], marker=class_markers[i],
                       alpha=0.75, edgecolors="white", linewidths=0.5,
                       label=class_names[i], zorder=3)
    ax.set_facecolor("#F8F9FD")
    ax.grid(True, color="#DDDDDD", alpha=0.6, linewidth=0.8)
    ax.set_axisbelow(True)
    ax.spines["top"].set_visible(False)
    ax.spines["right"].set_visible(False)
    ax.tick_params(labelsize=11.5)
    ax.set_xlabel("t-SNE Dimension 1", fontsize=9.5, labelpad=4)
    ax.set_ylabel("t-SNE Dimension 2", fontsize=9.8)
    ax.legend(loc="upper right", fontsize=8.5, framealpha=0.85, markerscale=1.4,
              borderaxespad=0.4, labelspacing=0.55)


fig = plt.figure(figsize=(12.29, 5.33), dpi=100)
ax1 = fig.add_axes([56.5 / 1229, 52 / 533, 541.5 / 1229, 450 / 533])
ax2 = fig.add_axes([690 / 1229, 52 / 533, 539 / 1229, 450 / 533])

scatter_panel(ax1, [a_normal, a_lbbb, a_rbbb, a_apc, a_pvc])
scatter_panel(ax2, [b_normal, b_lbbb, b_rbbb, b_apc, b_pvc])

ax1.set_xlim(-3.30, 3.0)
ax1.set_ylim(-3.22, 3.04)
ax2.set_xlim(-28.9, 27.4)
ax2.set_ylim(-23.4, 22.0)
ax1.set_xticks([-3, -2, -1, 0, 1, 2])
ax1.set_yticks([-3, -2, -1, 0, 1, 2, 3])
ax2.set_xticks([-20, -10, 0, 10, 20])
ax2.set_yticks([-20, -10, 0, 10, 20])

ax2.spines["left"].set_color("#666666")
ax2.spines["bottom"].set_color("#444444")

ax1.set_title("(a) Before WOA  [Silhouette = 0.31]", fontsize=10, fontweight="bold", pad=8)
ax2.set_title("(b) After WOA  [Silhouette = 0.74]", fontsize=10, fontweight="bold", pad=8)

for name, xy, col in zip(b_label_names, b_label_xy, class_colors):
    ax2.text(xy[0], xy[1], name, color=col, fontsize=7.2, fontweight="bold",
             ha="center", va="center", zorder=5)

fig.text(327 / 1229, 1 - 523 / 533, "1024-dimensional HDSI features — overlapping class boundaries",
         fontsize=8.3, style="italic", color="#666666", ha="center", va="center")
fig.text(960 / 1229, 1 - 523 / 533, "20 WOA-selected features — well-separated clusters",
         fontsize=8.3, style="italic", color="#666666", ha="center", va="center")

fig.savefig("out.png", dpi=100)
